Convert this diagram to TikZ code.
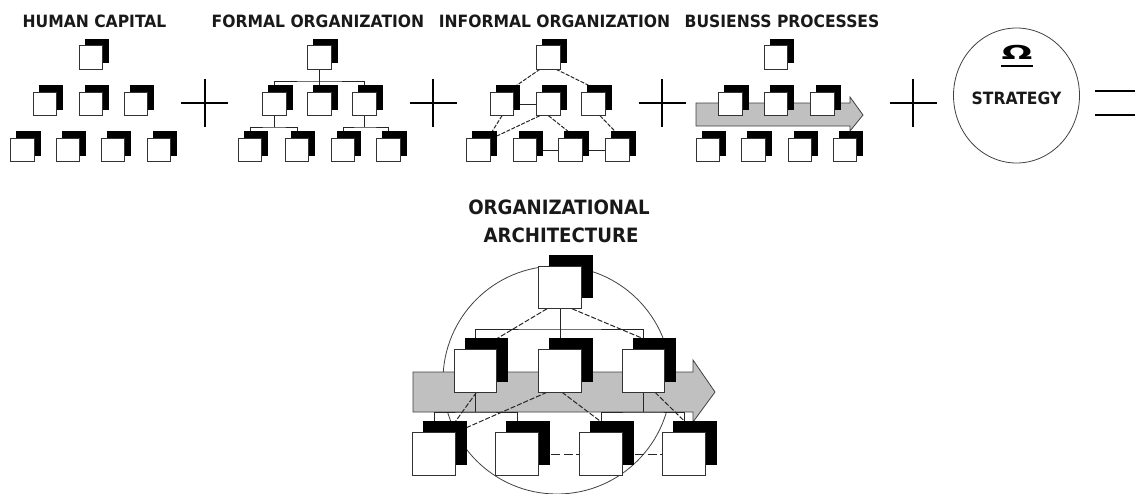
\documentclass[tikz,border=0pt]{standalone}
\usepackage{fontspec}
\newfontfamily\tfont{DejaVu Sans}[FakeStretch=0.92]
\usetikzlibrary{shadows,shapes.geometric,calc}
\pgfdeclarelayer{bg}\pgfdeclarelayer{mid}
\pgfsetlayers{bg,mid,main}
\definecolor{flowgray}{HTML}{C0C0C0}
\begin{document}
\begin{tikzpicture}[x=0.75pt,y=-0.75pt,
  sicon/.style={draw=black!80, line width=0.75pt, fill=white, minimum size=17.6pt, inner sep=0pt, outer sep=0pt,
    copy shadow={shadow xshift=4.5pt, shadow yshift=4.9pt, fill=black, draw=black}},
  bicon/.style={draw=black!80, line width=0.75pt, fill=white, minimum size=31.9pt, inner sep=0pt, outer sep=0pt,
    copy shadow={shadow xshift=8.25pt, shadow yshift=8.25pt, fill=black, draw=black}},
  ttl/.style={font=\tfont\bfseries\fontsize{12.7pt}{15pt}\selectfont, anchor=base, inner sep=0pt, text=black!90},
  btl/.style={font=\tfont\bfseries\fontsize{14.8pt}{18pt}\selectfont, anchor=base, inner sep=0pt, text=black!90},
  link/.style={line width=0.75pt, draw=black!85},
  dlink/.style={link, dash pattern=on 3pt off 1.1pt},
  blink/.style={link, dash pattern=on 3.8pt off 1.4pt},
  llink/.style={link, dash pattern=on 7pt off 2.5pt},
  plusline/.style={line width=1.5pt, draw=black},
  flow/.style={fill=flowgray, draw=black!75, line width=0.6pt}
]
\useasboundingbox (0,0) rectangle (1135,493);

% ---------- titles ----------
\node[ttl] (thc) at (94.5,27) {HUMAN CAPITAL};
\node[ttl] (tfo) at (318,27) {FORMAL ORGANIZATION};
\node[ttl] (tio) at (554.5,27) {INFORMAL ORGANIZATION};
\node[ttl] (tbp) at (782,27) {BUSIENSS PROCESSES};
\node[btl] (toa1) at (559,214) {ORGANIZATIONAL};
\node[btl] (toa2) at (561,242) {ARCHITECTURE};

% ---------- human capital ----------
\node[sicon] (h0) at (91,57.5) {};
\node[sicon] (h1) at (45,104) {};
\node[sicon] (h2) at (91,104) {};
\node[sicon] (h3) at (136,104) {};
\node[sicon] (h4) at (22.5,150) {};
\node[sicon] (h5) at (68,150) {};
\node[sicon] (h6) at (113,150) {};
\node[sicon] (h7) at (159,150) {};

% ---------- formal organization ----------
\node[sicon] (f0) at (319.5,57.5) {};
\node[sicon] (f1) at (274.5,104) {};
\node[sicon] (f2) at (319.5,104) {};
\node[sicon] (f3) at (364.5,104) {};
\node[sicon] (f4) at (250,150) {};
\node[sicon] (f5) at (297,150) {};
\node[sicon] (f6) at (343,150) {};
\node[sicon] (f7) at (388.5,150) {};
\coordinate (fbus) at (319.5,81);
\coordinate (fbl) at (274.5,127);
\coordinate (fbr) at (364.5,127);

% ---------- informal organization ----------
\node[sicon] (i0) at (548.5,57.5) {};
\node[sicon] (i1) at (502,104) {};
\node[sicon] (i2) at (548.5,104) {};
\node[sicon] (i3) at (593.5,104) {};
\node[sicon] (i4) at (478.5,150) {};
\node[sicon] (i5) at (525,150) {};
\node[sicon] (i6) at (570.5,150) {};
\node[sicon] (i7) at (617.5,150) {};

% ---------- business processes ----------
\node[sicon] (b0) at (776,57.5) {};
\node[sicon] (b1) at (730.5,104) {};
\node[sicon] (b2) at (776,104) {};
\node[sicon] (b3) at (822.5,104) {};
\node[sicon] (b4) at (708,150) {};
\node[sicon] (b5) at (753.5,150) {};
\node[sicon] (b6) at (800,150) {};
\node[sicon] (b7) at (845,150) {};

% ---------- strategy ----------
\node[draw=black!75, line width=0.6pt, ellipse, minimum width=94.5pt, minimum height=101.25pt, inner sep=0pt] (strat) at (1016.5,95.5) {};
\node[font=\tfont\bfseries\fontsize{14.4pt}{16pt}\selectfont, anchor=base, inner sep=0pt] (omega) at (1017,59) {\scalebox{2.05}[1]{Ω}};
\coordinate (ulA) at (1001,66);
\coordinate (ulB) at (1033,66);
\draw[line width=1.9pt] (ulA) -- (ulB);
\node[ttl] (tst) at (1016.5,104) {STRATEGY};

% ---------- plus and equals signs ----------
\foreach \cx in {204.5,433,662,913}{
  \draw[plusline] (\cx-23.5,103) -- (\cx+23.5,103) (\cx,79) -- (\cx,127);
}
\draw[plusline] (1095,91) -- (1135,91) (1095,115) -- (1135,115);

% ---------- organizational architecture ----------
\node[bicon] (t0) at (560,287.5) {};
\node[bicon] (t1) at (475.5,371) {};
\node[bicon] (t2) at (560,371) {};
\node[bicon] (t3) at (643.5,371) {};
\node[bicon] (t4) at (434,454) {};
\node[bicon] (t5) at (517,454) {};
\node[bicon] (t6) at (601,454) {};
\node[bicon] (t7) at (684,454) {};
\coordinate (tb) at (560,329);
\coordinate (tbl) at (475.5,412);
\coordinate (tbr) at (643.5,412);

% ---------- background: arrows and circle ----------
\begin{pgfonlayer}{bg}
  \draw[flow] (696,103) -- (850,103) -- (850,97) -- (863,115) -- (850,131) -- (850,126) -- (696,126) -- cycle;
  \draw[draw=black!75, line width=0.6pt] (557,380) circle[radius=85.5pt];
  \draw[flow] (413,372) -- (693,372) -- (693,360) -- (715,392) -- (693,422) -- (693,412) -- (413,412) -- cycle;
\end{pgfonlayer}

% ---------- connectors ----------
\begin{pgfonlayer}{mid}
  % formal
  \draw[link] (f0) -- (f2);
  \draw[link] (f1) |- (fbus) -| (f3);
  \draw[link] (f1) -- (fbl);
  \draw[link] (f4) |- (fbl) -| (f5);
  \draw[link] (f3) -- (fbr);
  \draw[link] (f6) |- (fbr) -| (f7);
  % informal
  \draw[dlink] ($(i0.south)+(-8.5,0)$) -- ($(i1.north east)+(3,-7)$);
  \draw[dlink] ($(i0.south)+(7.5,0)$) -- ($(i3.north)+(-5,-7)$);
  \draw[link] (i1) -- (i2);
  \draw[dlink] (i1.south) -- ($(i4.north east)+(2,-7)$);
  \draw[dlink] ($(i2.south west)+(3,0)$) -- ($(i4.north east)+(6,-2)$);
  \draw[dlink] (i2.south) -- ($(i6.north)+(-2.5,-7)$);
  \draw[dlink] ($(i3.south)+(6.5,0)$) -- ($(i7.north)+(-2.5,-7)$);
  \draw[link] (i5) -- (i6);
  \draw[link] (i6) -- (i7);
  % architecture tree
  \draw[link] (t0) -- (t2);
  \draw[link] (t1) |- (tb) -| (t3);
  \draw[link] (t1) -- (tbl);
  \draw[link] (t4) |- (tbl) -| (t5);
  \draw[link] (t3) -- (tbr);
  \draw[link] (t6) |- (tbr) -| (t7);
  % architecture informal links
  \draw[blink] ($(t0.south)+(-13,0)$) -- ($(t1.north east)+(0,-11)$);
  \draw[blink] ($(t0.south)+(12,0)$) -- ($(t3.north)+(0,-11)$);
  \draw[blink] ($(t1.south)+(1,0)$) -- ($(t4.north east)+(0,-11)$);
  \draw[blink] ($(t2.south)+(-13,0)$) -- ($(t4.north east)+(11,-5)$);
  \draw[blink] ($(t2.south)+(2,0)$) -- ($(t6.north)+(0,-11)$);
  \draw[blink] ($(t3.south)+(11.5,0)$) -- ($(t7.north)+(1,-11)$);
  \draw[llink] (t5) -- (t6);
  \draw[llink] (t6) -- (t7);
\end{pgfonlayer}
\end{tikzpicture}
\end{document}
